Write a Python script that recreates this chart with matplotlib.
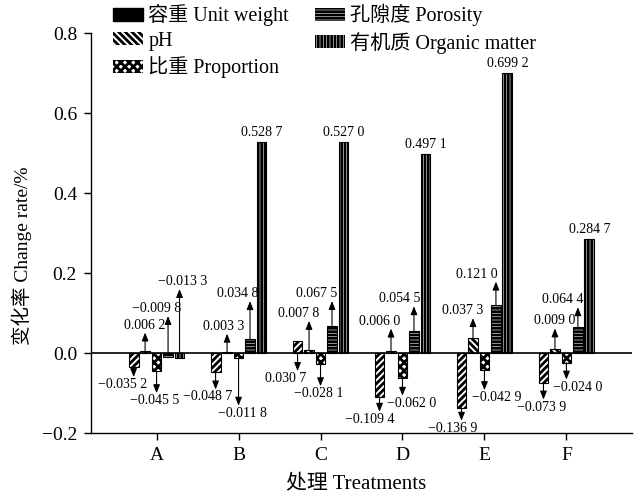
import numpy as np
import matplotlib.pyplot as plt
from matplotlib.patches import Patch

# 字体: 西文 Liberation Serif, 中文 Noto Sans CJK SC
plt.rcParams['font.family'] = ['Liberation Serif', 'Noto Sans CJK SC']
plt.rcParams['hatch.linewidth'] = 2.0
plt.rcParams['axes.unicode_minus'] = True

# 数据
treatments = ['A', 'B', 'C', 'D', 'E', 'F']
series_names = ['容重 Unit weight', 'pH', '比重 Proportion', '孔隙度 Porosity', '有机质 Organic matter']
unit_weight = [-0.0352, -0.0487, 0.0307, -0.1094, -0.1369, -0.0739]
ph = [0.0062, 0.0033, 0.0078, 0.0060, 0.0373, 0.0090]
proportion = [-0.0455, -0.0118, -0.0281, -0.0620, -0.0429, -0.0240]
porosity = [-0.0098, 0.0348, 0.0675, 0.0545, 0.1210, 0.0644]
organic_matter = [-0.0133, 0.5287, 0.5270, 0.4971, 0.6992, 0.2847]
y_ticks = [-0.2, 0.0, 0.2, 0.4, 0.6, 0.8]

series = [unit_weight, ph, proportion, porosity, organic_matter]
hatches = ['/////', '\\\\\\\\\\', 'xxxx', '-----', '|||||']

# 标注: 箭头方向(1上 -1下 0无), 箭头长度(px), 文字水平偏移(px)
arrow_dir = [
    [-1, -1, -1, -1, -1, -1],
    [1, 1, 1, 1, 1, 1],
    [-1, -1, -1, -1, -1, -1],
    [1, 1, 1, 1, 1, 1],
    [1, 0, 0, 0, 0, 0],
]
arrow_len = [
    [10, 17, 18, 15, 13, 17],
    [18, 18, 29, 22, 20, 21],
    [22, 48, 22, 18, 20, 17],
    [37, 38, 25, 25, 23, 20],
    [64, 0, 0, 0, 0, 0],
]
label_dx = [
    [-11, -8, -12, -10, -9, -2],
    [0, -3, -10, -11, -10, 0],
    [-2, 4, -2, 9, 12, 11],
    [-11, -12, -15, -14, -19, -15],
    [3, 0, 0, 0, 0, 0],
]


def fmt(v):
    s = '%.4f' % abs(v)
    s = s[:-1] + ' ' + s[-1]
    return ('\u2212' + s) if v < 0 else s


fig = plt.figure(figsize=(6.4, 4.93), dpi=100)
ax = fig.add_axes([91 / 640, 1 - 433 / 493, 541 / 640, 400 / 493])

x = np.arange(len(treatments))
width = 0.12
step = 0.14
for i, vals in enumerate(series):
    xs = x + (i - 2) * step
    ax.bar(xs, vals, width, facecolor='white', edgecolor='black', hatch=hatches[i], lw=0.8, zorder=2)
    for j, v in enumerate(vals):
        d = arrow_dir[i][j]
        L = arrow_len[i][j]
        if d == 0:
            ax.annotate(fmt(v), xy=(xs[j], v), xytext=(label_dx[i][j], 3), textcoords='offset pixels',
                        ha='center', va='bottom', fontsize=10)
            continue
        base = max(v, 0) if d > 0 else min(v, 0)
        ax.annotate('', xy=(xs[j], base), xytext=(0, d * L), textcoords='offset pixels',
                    arrowprops=dict(arrowstyle='<|-,head_length=0.5,head_width=0.2', color='black',
                                    lw=0.8, mutation_scale=10, shrinkA=0, shrinkB=0))
        ax.annotate(fmt(v), xy=(xs[j], base), xytext=(label_dx[i][j], d * (L + 1)),
                    textcoords='offset pixels', ha='center',
                    va='bottom' if d > 0 else 'top', fontsize=10)

ax.axhline(0, color='black', lw=1.2, zorder=3)

ax.set_xlim(-0.8, 5.8)
ax.set_ylim(-0.2, 0.8)
ax.set_xticks(x, treatments)
ax.set_yticks(y_ticks, [('%.1f' % t).replace('-', '\u2212') for t in y_ticks])
ax.tick_params(direction='out', length=5, width=1, labelsize=14, pad=5)
for s in ['top', 'right']:
    ax.spines[s].set_visible(False)
for s in ['left', 'bottom']:
    ax.spines[s].set_linewidth(1.0)

ax.set_xlabel('处理 Treatments', fontsize=15)
ax.xaxis.set_label_coords(0.49, -0.105)
ax.set_ylabel('变化率 Change rate/%', fontsize=14)
ax.yaxis.set_label_coords(-0.109, 0.4425)

# 图例
handles = [Patch(facecolor='black', edgecolor='black')]
for h in hatches[1:]:
    handles.append(Patch(facecolor='white', edgecolor='black', hatch=h, lw=0))
fig.legend(handles, series_names, loc='upper left', bbox_to_anchor=(113 / 640, 1 - 4 / 493),
           ncol=2, frameon=False, fontsize=14.5, borderpad=0, borderaxespad=0,
           handlelength=1.5, handleheight=0.6, handletextpad=0.25,
           columnspacing=1.3, labelspacing=0.28)

fig.savefig('out.png', dpi=100)
